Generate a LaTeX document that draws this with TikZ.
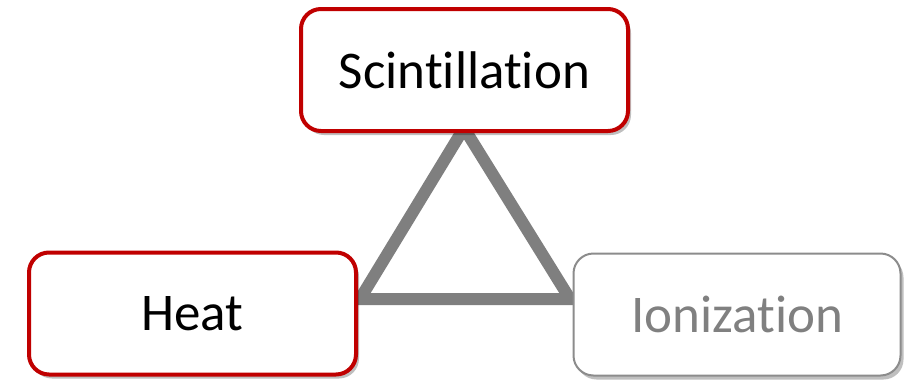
\documentclass[tikz,border=0pt]{standalone}
\usepackage{fontspec}
\setmainfont{Carlito}[RawFeature={-liga}]
\usetikzlibrary{shadows}
\definecolor{boxred}{HTML}{C00000}
\definecolor{linegray}{HTML}{7F7F7F}
\definecolor{ionborder}{HTML}{8C8C8C}
\definecolor{iontext}{HTML}{808080}
\tikzset{
  box/.style={rounded corners=20pt, fill=white, minimum width=327pt, minimum height=122pt,
    inner sep=0pt, font=\fontsize{53}{60}\selectfont,
    drop shadow={shadow xshift=3pt, shadow yshift=-4pt, opacity=0.25, fill=black}},
  redbox/.style={box, draw=boxred, line width=4pt, text=black},
  graybox/.style={box, draw=ionborder, line width=2pt, text=iontext},
  tri/.style={draw=linegray, line width=12pt, line join=miter}
}
\begin{document}
\begin{tikzpicture}[x=1pt,y=-1pt]
\useasboundingbox (0,0) rectangle (914,381);
\coordinate (apex) at (464,128);
\coordinate (bl) at (360,299);
\coordinate (br) at (570,299);
\draw[tri] (apex) -- (bl) -- (br) -- cycle;
\node[redbox] (scint) at (464.5,70) {Scintillation};
\node[redbox] (heat) at (192.5,313.5) {Heat};
\node[graybox] (ion) at (737,314.5) {Ionization};
\end{tikzpicture}
\end{document}
